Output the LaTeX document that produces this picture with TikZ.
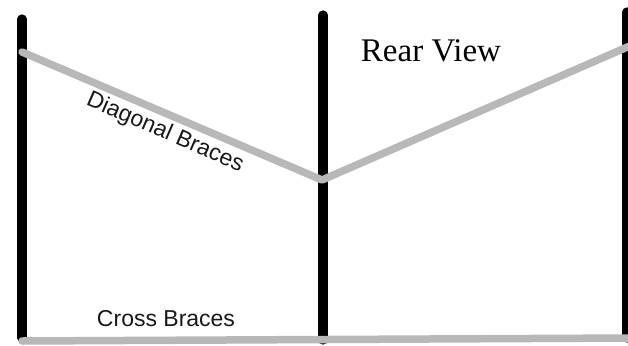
\documentclass[tikz,border=0pt]{standalone}
\usepackage{fontspec}
\setmainfont{Liberation Serif}
\newfontfamily\labelfont{Liberation Sans}
\tikzset{post/.style={line width=9.2pt,black,line cap=round},
	brace/.style={line width=7.5pt,black!28,line cap=round},
	bracelabel/.style={font=\labelfont\fontsize{23pt}{26pt}\selectfont,inner sep=0pt,text=black!90}}
\begin{document}
\begin{tikzpicture}[x=1pt,y=-1pt,line join=round]
	\useasboundingbox (0,0) rectangle (628,345);
	\fill[white] (0,0) rectangle (628,345);
	% posts
	\foreach \name/\x/\ytop/\ybot in {left/22/19/338,middle/323/15/340,right/627/12/338}{
		\coordinate (\name top) at (\x,\ytop);
		\coordinate (\name bot) at (\x,\ybot);
		\draw[post] (\name top) -- (\name bot);
	}
	% braces
	\coordinate (diagleft) at (22,52);
	\coordinate (diagmid) at (322,180);
	\coordinate (diagright) at (632,45);
	\coordinate (crossleft) at (22,341);
	\coordinate (crossright) at (632,338);
	\draw[brace] (diagleft) -- (diagmid) -- (diagright);
	\draw[brace] (crossleft) -- (crossright);
	% labels
	\node[bracelabel,rotate=-23.5] (diaglabel) at (165,133) {Diagonal Braces};
	\node[bracelabel] (crosslabel) at (166,319) {Cross Braces};
	\node[font=\fontsize{33pt}{40pt}\selectfont,inner sep=0pt] (title) at (431,51) {Rear View};
\end{tikzpicture}
\end{document}
